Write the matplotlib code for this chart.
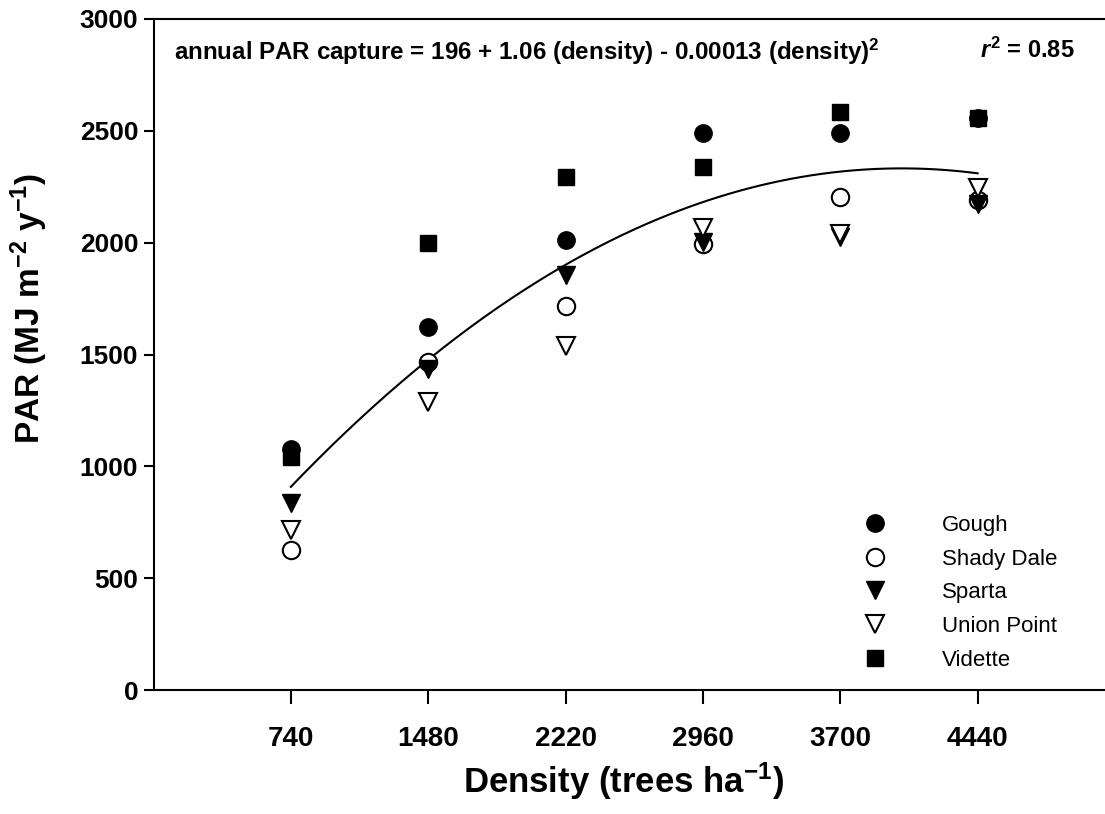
import matplotlib
matplotlib.use("Agg")
import matplotlib.pyplot as plt
import numpy as np

density = [740, 1480, 2220, 2960, 3700, 4440]
tick_labels = ["740", "1480", "2220", "2960", "3700", "4440"]

gough = [1078, 1625, 2012, 2490, 2490, 2556]
shady_dale = [626, 1468, 1719, 1995, 2204, 2190]
sparta = [834, 1435, 1856, 2005, 2025, 2172]
union_point = [716, 1289, 1540, 2064, 2037, 2246]
vidette = [1040, 2000, 2294, 2339, 2582, 2556]

# fitted regression curve (coefficients as drawn)
fit_coef = [196, 1.06, -0.0001315]
fit_range = [740, 4440]

plt.rcParams['font.family'] = ['Liberation Sans', 'DejaVu Sans']
plt.rcParams['mathtext.fontset'] = 'custom'
plt.rcParams['mathtext.rm'] = 'Liberation Sans'
plt.rcParams['mathtext.bf'] = 'Liberation Sans:bold'
plt.rcParams['mathtext.it'] = 'Liberation Sans:italic:bold'
plt.rcParams['mathtext.default'] = 'bf'

fig = plt.figure(figsize=(11.05, 8.14), dpi=100)
ax = fig.add_axes([153.5/1105, 1-690/814, (1115-153.5)/1105, (690-19)/814])

ms = 12.5
ax.plot(density, gough, 'o', color='black', ms=ms, label='Gough', zorder=3)
ax.plot(density, shady_dale, 'o', mfc='white', mec='black', mew=1.5, ms=ms, label='Shady Dale', zorder=3)
ax.plot(density, sparta, 'v', color='black', ms=ms+1, label='Sparta', zorder=3)
ax.plot(density, union_point, 'v', mfc='white', mec='black', mew=1.5, ms=ms+1, label='Union Point', zorder=3)
ax.plot(density, vidette, 's', color='black', ms=ms-1, label='Vidette', zorder=3)

xf = np.linspace(fit_range[0], fit_range[1], 200)
yf = fit_coef[0] + fit_coef[1]*xf + fit_coef[2]*xf**2
ax.plot(xf, yf, color='black', lw=1.5, zorder=2)

ax.set_xlim(0, 5180)
ax.set_ylim(0, 3000)
ax.set_xticks(density)
ax.set_xticklabels(tick_labels)
ax.set_yticks([0, 500, 1000, 1500, 2000, 2500, 3000])
ax.spines['right'].set_visible(False)
for s in ['left', 'bottom', 'top']:
    ax.spines[s].set_linewidth(1.5)
ax.tick_params(axis='x', direction='out', length=10, width=1.5, pad=16)
ax.tick_params(axis='y', direction='out', length=7, width=1.5, pad=4)

for lab in ax.get_xticklabels():
    lab.set_fontsize(20)
    lab.set_fontweight('bold')
for lab in ax.get_yticklabels():
    lab.set_fontsize(19)
    lab.set_fontweight('bold')

ax.set_xlabel(r'Density (trees ha$^{-1}$)', fontsize=25, fontweight='bold')
ax.xaxis.set_label_coords(623/1105, 1-793/814, transform=fig.transFigure)
ax.xaxis.label.set_va('baseline')
ax.set_ylabel(r'PAR (MJ m$^{-2}$ y$^{-1}$)', fontsize=24, fontweight='bold')
ax.yaxis.set_label_coords(50/1105, 1-308/814, transform=fig.transFigure)

fig.text(174/1105, 1-52/814, r'annual PAR capture = 196 + 1.06 (density) - 0.00013 (density)$^{2}$',
         fontsize=17.4, fontweight='bold', va='center', ha='left')
fig.text(1075/1105, 1-50/814, r'$\mathit{r}^{2}$ = 0.85', fontsize=17, fontweight='bold',
         va='center', ha='right')

leg = ax.legend(loc='upper left', bbox_to_anchor=(849/1105, 1-506/814), bbox_transform=fig.transFigure,
                frameon=False, fontsize=16, handletextpad=2.3, labelspacing=0.57, borderaxespad=0,
                handlelength=1.5)

fig.savefig('out.png', dpi=100)
